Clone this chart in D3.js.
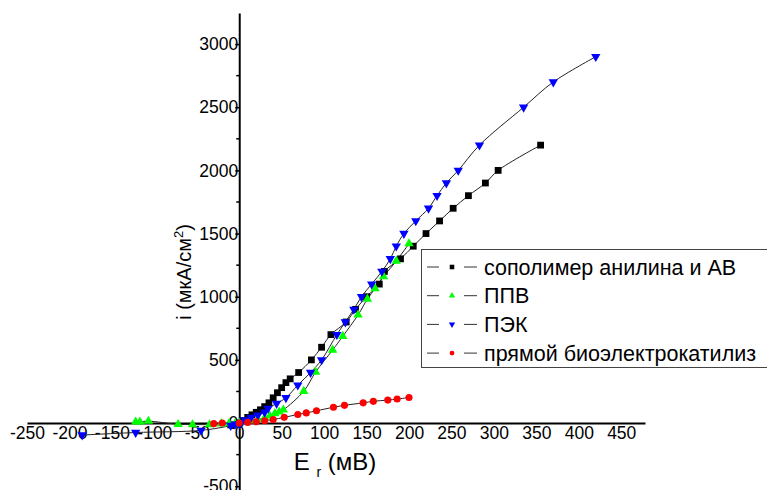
<!DOCTYPE html>
<html>
<head>
<meta charset="utf-8">
<script src="https://cdn.jsdelivr.net/npm/d3@7"></script>
<style>
  body { margin: 0; background: #fff; }
  svg { display: block; font-family: Arial, "Liberation Sans", sans-serif; }
</style>
</head>
<body>
<div id="chart"></div>
<script>
// Series data: [E (mV), i (uA/cm2)]
const copolymer = [
  [-10, -15], [0, 0], [5, 20], [10, 45], [15, 65], [20, 85], [25, 105], [30, 130],
  [35, 160], [40, 200], [45, 240], [50, 280], [55, 320], [60, 350], [70, 400],
  [85, 500], [97, 600], [108, 700], [126, 800], [137, 900], [150, 1000], [165, 1100],
  [171, 1200], [190, 1300], [205, 1400], [220, 1500], [236, 1600], [252, 1700],
  [270, 1800], [290, 1900], [305, 2000], [355, 2200]
];
const ppv = [
  [-122, 10], [-117, 10], [-107, 15], [-72, -10], [-55, -12], [-35, -12], [-21, -5],
  [-12, -3], [-5, -5], [0, 0], [5, 5], [14, 18], [22, 29], [30, 42], [36, 57],
  [42, 76], [47, 89], [52, 105], [76, 252], [90, 404], [110, 578], [122, 687],
  [140, 856], [151, 982], [160, 1065], [170, 1160], [185, 1283], [200, 1420]
];
const pek = [
  [-185, -95], [-122, -75], [-45, -58], [-10, -20], [-5, -10], [0, -5], [3, 5],
  [7, 24], [14, 45], [22, 63], [30, 85], [34, 116], [44, 155], [55, 200], [69, 300],
  [84, 400], [97, 500], [115, 700], [125, 800], [135, 900], [144, 1000], [156, 1100],
  [168, 1200], [178, 1300], [185, 1400], [194, 1500], [208, 1600], [223, 1700],
  [233, 1800], [244, 1900], [258, 2000], [283, 2200], [335, 2500], [370, 2700], [420, 2900]
];
const direct = [
  [-30, -5], [-20, 0], [0, 0], [10, 5], [20, 10], [30, 18], [40, 28], [53, 45],
  [69, 68], [79, 80], [91, 97], [111, 125], [124, 140], [146, 160], [158, 172],
  [175, 182], [186, 190], [200, 202]
];

const seriesNames = ['сополимер анилина и АВ', 'ППВ', 'ПЭК', 'прямой биоэлектрокатилиз'];
const xTicks = [-250, -200, -150, -100, -50, 0, 50, 100, 150, 200, 250, 300, 350, 400, 450];
const yTicks = [-500, 0, 500, 1000, 1500, 2000, 2500, 3000];
const yMinorTicks = [-250, 250, 750, 1250, 1750, 2250, 2750, 3250];

const width = 767, height = 490;

const svg = d3.select('#chart').append('svg')
  .attr('width', width)
  .attr('height', height);

const x = d3.scaleLinear().domain([-250, 478]).range([27, 645]);
const y = d3.scaleLinear().domain([-530, 3246]).range([490, 13]);

// X axis along y = 0
const xAxis = svg.append('g')
  .attr('transform', `translate(0,${y(0)})`)
  .call(d3.axisBottom(x).tickValues(xTicks).tickSize(0).tickPadding(4).tickFormat(d => String(d)));
xAxis.select('.domain').attr('stroke', '#000').attr('stroke-width', 2);
xAxis.selectAll('text').style('font-size', '17.5px').attr('fill', '#000');

// Y axis along x = 0
const yAxis = svg.append('g')
  .attr('transform', `translate(${x(0)},0)`)
  .call(d3.axisLeft(y).tickValues(yTicks).tickSize(4).tickSizeOuter(0).tickPadding(-3).tickFormat(d => String(d)));
yAxis.select('.domain').attr('stroke', '#000').attr('stroke-width', 2);
yAxis.selectAll('line').attr('stroke', '#000').attr('stroke-width', 1.5);
yAxis.selectAll('text').style('font-size', '17.5px').attr('fill', '#000');
yAxis.selectAll('.minor')
  .data(yMinorTicks.filter(d => y(d) > 13))
  .join('line')
  .attr('x1', -3).attr('x2', 0)
  .attr('y1', d => y(d)).attr('y2', d => y(d))
  .attr('stroke', '#000').attr('stroke-width', 1.5);

// Axis titles
const yTitle = svg.append('text')
  .attr('transform', 'translate(191,272) rotate(-90)')
  .attr('text-anchor', 'middle')
  .style('font-size', '20px');
yTitle.append('tspan').text('i (мкА/см');
yTitle.append('tspan').attr('dy', -8).style('font-size', '13px').text('2');
yTitle.append('tspan').attr('dy', 8).text(')');

const xTitle = svg.append('text')
  .attr('x', 335).attr('y', 470)
  .attr('text-anchor', 'middle')
  .style('font-size', '24px');
xTitle.append('tspan').text('E ');
xTitle.append('tspan').attr('dy', 7).style('font-size', '14px').text('r');
xTitle.append('tspan').attr('dy', -7).text(' (мВ)');

// Series
const series = [
  { name: seriesNames[0], data: copolymer, color: '#000000', symbol: d3.symbolSquare, size: 46, rot: 0 },
  { name: seriesNames[1], data: ppv, color: '#00ff00', symbol: d3.symbolTriangle, size: 38, rot: 0 },
  { name: seriesNames[2], data: pek, color: '#0000ff', symbol: d3.symbolTriangle, size: 38, rot: 180 },
  { name: seriesNames[3], data: direct, color: '#ff0000', symbol: d3.symbolCircle, size: 40, rot: 0 }
];

const line = d3.line()
  .x(d => x(d[0]))
  .y(d => y(d[1]))
  .curve(d3.curveCatmullRom);

series.forEach(s => {
  svg.append('path')
    .datum(s.data)
    .attr('d', line)
    .attr('fill', 'none')
    .attr('stroke', '#222')
    .attr('stroke-width', 1);
});

series.forEach(s => {
  svg.append('g')
    .selectAll('path')
    .data(s.data)
    .join('path')
    .attr('d', d3.symbol().type(s.symbol).size(s.size))
    .attr('transform', d => `translate(${x(d[0])},${y(d[1])}) rotate(${s.rot})`)
    .attr('fill', s.color);
});

// Legend
const legend = svg.append('g');
legend.append('rect')
  .attr('x', 421.5).attr('y', 249.5)
  .attr('width', 360).attr('height', 118)
  .attr('fill', '#fff')
  .attr('stroke', '#444')
  .attr('stroke-width', 1);

const legendRows = legend.selectAll('.row')
  .data(series)
  .join('g')
  .attr('transform', (d, i) => `translate(0,${267 + i * 28.7})`);

legendRows.append('line')
  .attr('x1', 427).attr('x2', 439).attr('y1', 0).attr('y2', 0)
  .attr('stroke', '#333');
legendRows.append('line')
  .attr('x1', 464).attr('x2', 477).attr('y1', 0).attr('y2', 0)
  .attr('stroke', '#333');
legendRows.append('path')
  .attr('d', d => d3.symbol().type(d.symbol).size(d.size * 0.45)())
  .attr('transform', d => `translate(452,0) rotate(${d.rot})`)
  .attr('fill', d => d.color);
legendRows.append('text')
  .attr('x', 484).attr('y', 0).attr('dy', '0.35em')
  .style('font-size', '21.5px')
  .text(d => d.name);
</script>
</body>
</html>
